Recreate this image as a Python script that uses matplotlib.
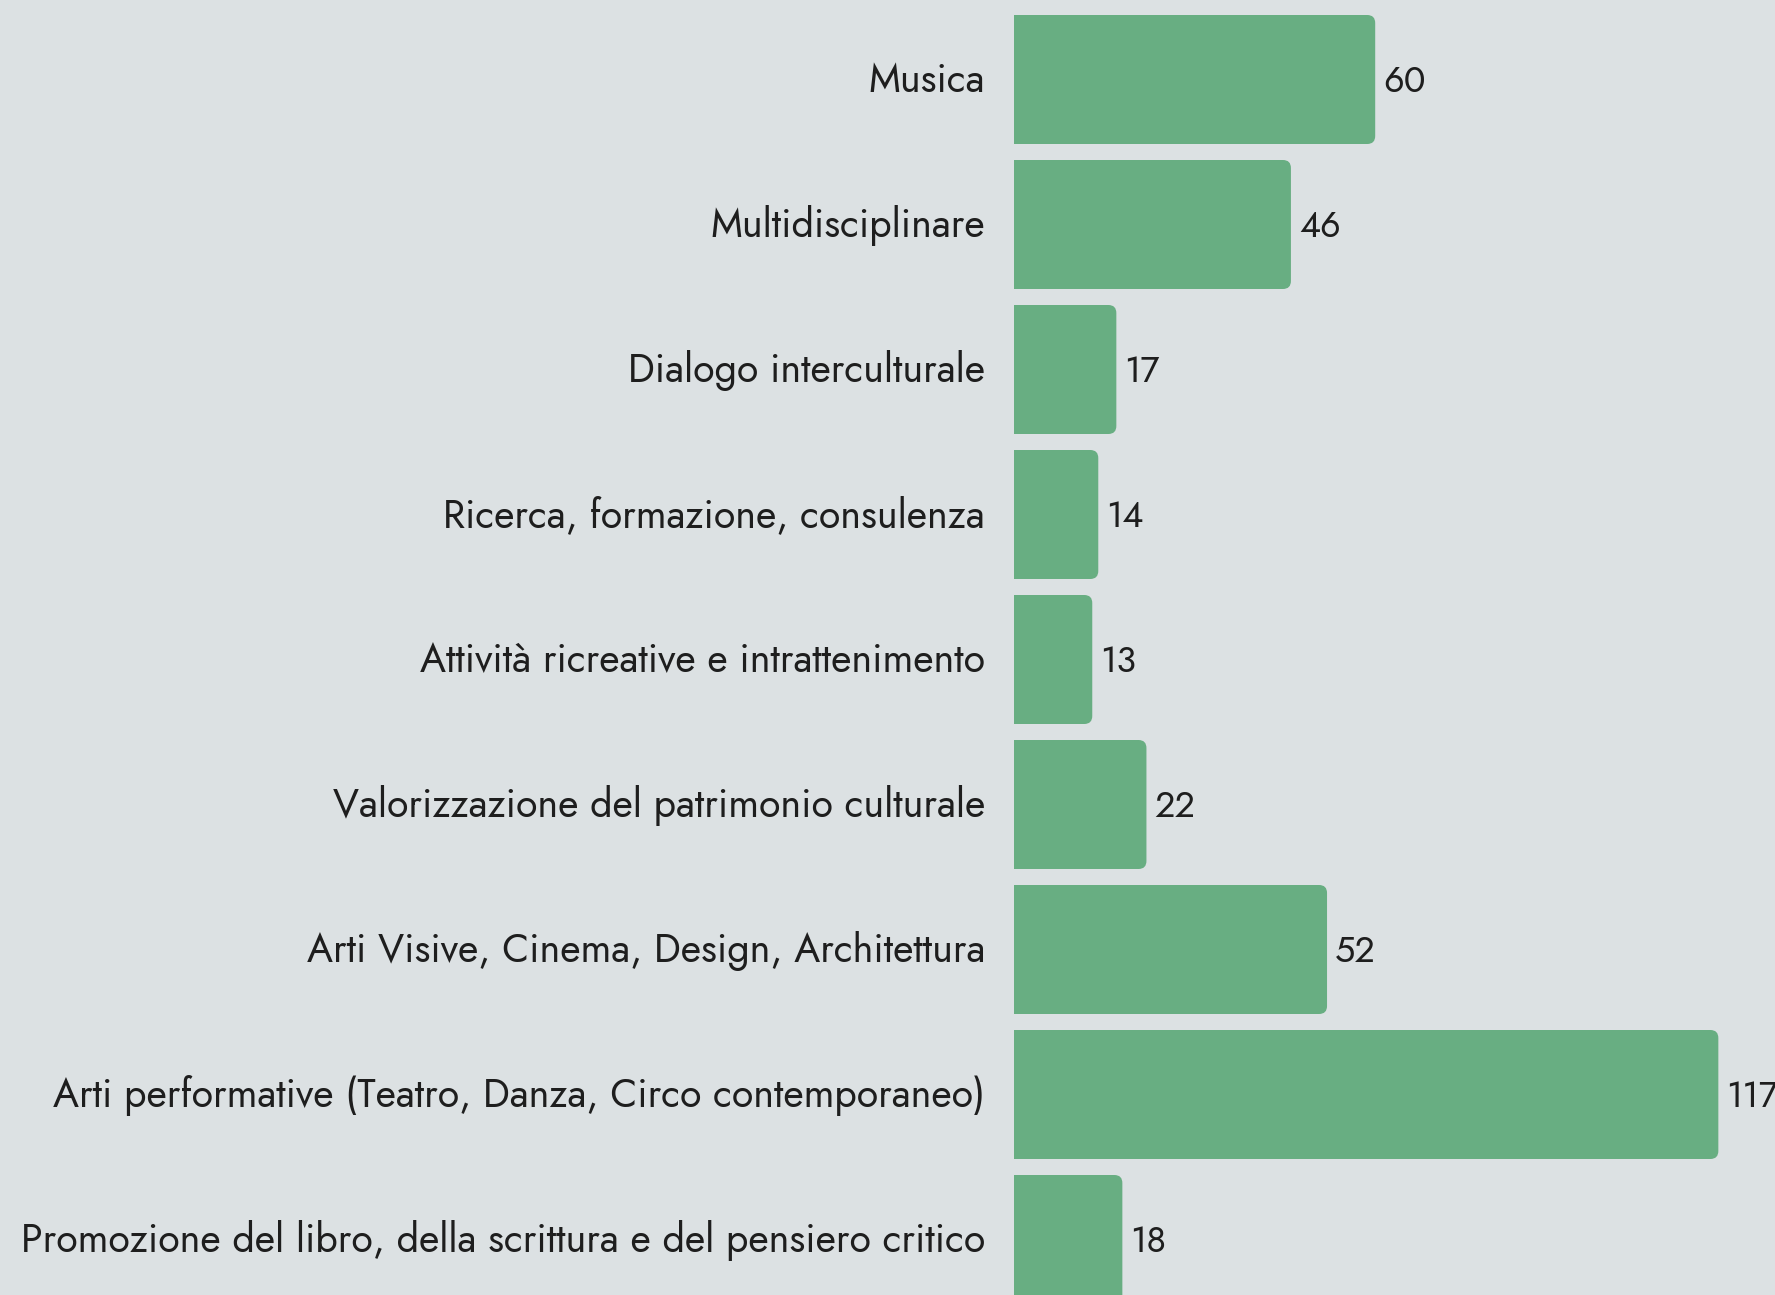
import matplotlib
matplotlib.use("Agg")
import matplotlib.pyplot as plt
from matplotlib.patches import FancyBboxPatch, Rectangle

# Data (top to bottom)
categories = [
    "Musica",
    "Multidisciplinare",
    "Dialogo interculturale",
    "Ricerca, formazione, consulenza",
    "Attività ricreative e intrattenimento",
    "Valorizzazione del patrimonio culturale",
    "Arti Visive, Cinema, Design, Architettura",
    "Arti performative (Teatro, Danza, Circo contemporaneo)",
    "Promozione del libro, della scrittura e del pensiero critico",
]
values = [60, 46, 17, 14, 13, 22, 52, 117, 18]

bg = "#dce1e3"
bar_color = "#68ae82"
text_color = "#1e1e1e"

plt.rcParams["font.family"] = ["Jost", "Lato", "DejaVu Sans"]

W, H, dpi = 1775, 1295, 100
fig = plt.figure(figsize=(W / dpi, H / dpi), dpi=dpi, facecolor=bg)
ax = fig.add_axes([0, 0, 1, 1])
ax.set_facecolor(bg)

# pixel geometry of the reference
x0_px = 1014          # bar baseline
px_per_unit = 6.02    # horizontal scale
pitch = 145           # vertical distance between bars (px)
first_center = 79.5   # center of first bar from top (px)
bar_h = 129 / pitch

ax.set_xlim(-x0_px / px_per_unit, (W - x0_px) / px_per_unit)
ax.set_ylim((H - first_center) / pitch, -first_center / pitch)
ax.axis("off")

r = 8 / px_per_unit
aspect = px_per_unit / pitch
for i, (cat, v) in enumerate(zip(categories, values)):
    y = i - bar_h / 2
    box = FancyBboxPatch((0, y), v, bar_h,
                         boxstyle="round,pad=0,rounding_size=%f" % r,
                         mutation_aspect=aspect, facecolor=bar_color,
                         edgecolor="none")
    ax.add_patch(box)
    # square off the left corners
    ax.add_patch(Rectangle((0, y), v / 2, bar_h, facecolor=bar_color,
                           edgecolor="none"))
    ax.text(v + 8 / px_per_unit, i + 0.02, str(v), ha="left", va="center",
            fontsize=26, color=text_color)
    ax.text(-29 / px_per_unit, i + 0.01, cat, ha="right", va="center",
            fontsize=28.3, color=text_color)

fig.savefig("out.png", dpi=dpi, facecolor=bg)
